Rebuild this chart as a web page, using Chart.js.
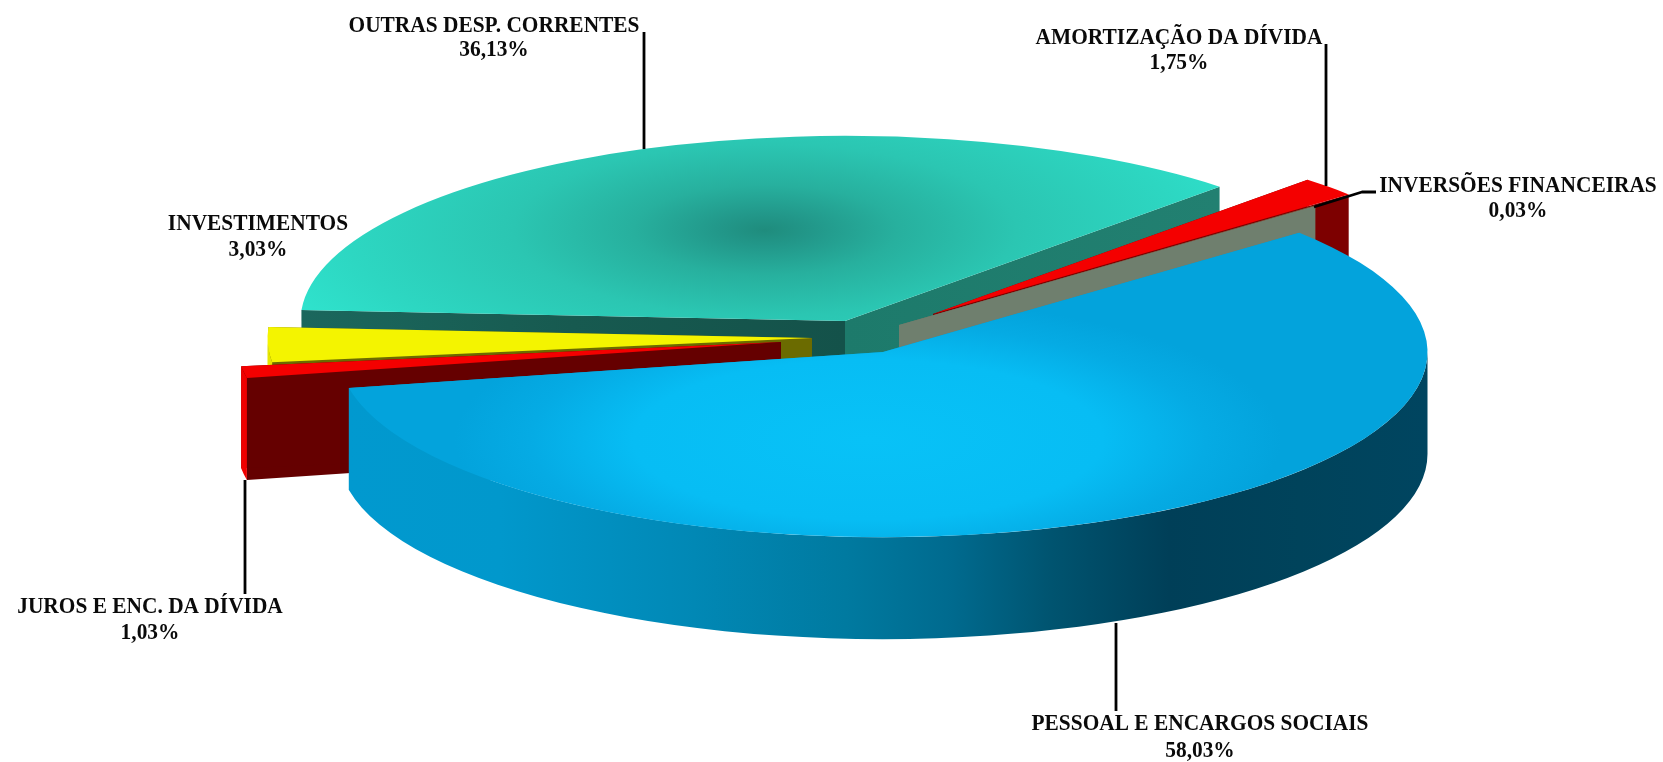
<!DOCTYPE html>
<html lang="pt">
<head>
<meta charset="utf-8">
<title>Despesas por grupo</title>
<style>
html,body{margin:0;padding:0;background:#fff;overflow:hidden}
canvas{display:block}
</style>
<script src="https://cdn.jsdelivr.net/npm/chart.js@4"></script>
</head>
<body>
<canvas id="c" width="1663" height="762"></canvas>
<script>
const categories = ["OUTRAS DESP. CORRENTES","AMORTIZAÇÃO DA DÍVIDA","INVERSÕES FINANCEIRAS","PESSOAL E ENCARGOS SOCIAIS","JUROS E ENC. DA DÍVIDA","INVESTIMENTOS"];
const values = [36.13,1.75,0.03,58.03,1.03,3.03];

// Projection of the pie onto the page
const TILT = 0.34, DEPTH = 102, RADIUS = 544.5, ROTATION = -86.6;
const APEX = [[845,321],[933,314],[899,325],[883,352],[781,342],[812,338]];
const PAINT_ORDER = [0,1,2,5,4,3];

const canvas = document.getElementById('c');
const g = canvas.getContext('2d');
const CX = 1663/2, CY = 762/2;

function radial(dx,dy,r,stops){
  const gr = g.createRadialGradient(CX+dx,CY+dy,0,CX+dx,CY+dy,r);
  stops.forEach(s=>gr.addColorStop(s[0],s[1]));
  return gr;
}
function linear(x0,x1,stops){
  const gr = g.createLinearGradient(x0,0,x1,0);
  stops.forEach(s=>gr.addColorStop(s[0],s[1]));
  return gr;
}
const topColors = [
  radial(-80,-268,600,[[0,'#1f8c7d'],[.08,'#22988a'],[.22,'#27b09e'],[.42,'#2bc6b2'],[.7,'#2dd7c2'],[1,'#31ecd6']]),
  '#f40000',
  '#8a2a10',
  radial(-15,258,470,[[0,'#08c2f7'],[.5,'#07bdf4'],[.72,'#05abe4'],[.88,'#03a3dc'],[1,'#03a3dc']]),
  '#f40000',
  '#f4f400'
];
const cutColors = [
  [linear(302,845,[[0,'#1b675d'],[.5,'#175a50'],[1,'#14524a']]), linear(845,1218,[[0,'#1d7a6b'],[1,'#228071']])],
  ['#7d0000','#7d0000'],
  ['#6f7f6e','#6f7f6e'],
  ['#0099cc','#0099cc'],
  ['#650000','#650000'],
  ['#6b6b00','#6b6b00']
];
const wallColors = [
  '#20806f','#7d0000','#6f7f6e',
  linear(349,1428,[[0,'#0199cf'],[.14,'#0198cc'],[.32,'#0188b5'],[.46,'#007aa0'],[.56,'#006a8e'],[.65,'#005470'],[.76,'#003f58'],[.88,'#00435b'],[1,'#004560']]),
  '#f00000','#e6e600'
];

const LABEL_FONT = 'bold 23px "Liberation Serif"';
const LABEL_STRETCH = 0.93;
const LABELS = [
  {cx:494,  y1:32,  y2:56},
  {cx:1179, y1:44,  y2:69},
  {cx:1518, y1:192, y2:217},
  {cx:1200, y1:730, y2:757},
  {cx:150,  y1:613, y2:639},
  {cx:258,  y1:230, y2:256}
];
const LEADERS = [
  [[644,32],[644,149]],
  [[1326,44],[1326,186]],
  [[1314,207],[1362,192],[1376,192]],
  [[1116,623],[1116,711]],
  [[245,480],[245,594]]
];

const fmt = v => v.toFixed(2).replace('.',',') + '%';

function label(ctx,text,x,y){
  ctx.save();
  ctx.translate(x,y); ctx.scale(LABEL_STRETCH,1);
  ctx.fillText(text,0,0);
  ctx.restore();
}

const pie3d = {
  id:'pie3d',
  beforeDatasetsDraw(chart){
    const ctx = chart.ctx, arcs = chart.getDatasetMeta(0).data;
    PAINT_ORDER.forEach(i=>{
      const arc = arcs[i];
      const {x,y,startAngle:s,endAngle:e,outerRadius:R} = arc.getProps(['x','y','startAngle','endAngle','outerRadius'],true);
      const [ax,ay] = APEX[i];
      const ry = R*TILT;
      const cut = (a,color)=>{
        const px = ax+R*Math.cos(a), py = ay+ry*Math.sin(a);
        ctx.beginPath();
        ctx.moveTo(ax,ay); ctx.lineTo(px,py); ctx.lineTo(px,py+DEPTH); ctx.lineTo(ax,ay+DEPTH);
        ctx.closePath(); ctx.fillStyle = color; ctx.fill();
      };
      cut(s,cutColors[i][0]);
      cut(e,cutColors[i][1]);
      // Only the part of the rim that faces the viewer has a visible wall.
      [0, 2*Math.PI, -2*Math.PI].forEach(turn=>{
        const a0 = Math.max(s+turn,0), a1 = Math.min(e+turn,Math.PI);
        if (a1 <= a0) return;
        ctx.beginPath();
        ctx.ellipse(ax,ay,R,ry,0,a0,a1,false);
        ctx.ellipse(ax,ay+DEPTH,R,ry,0,a1,a0,true);
        ctx.closePath(); ctx.fillStyle = wallColors[i]; ctx.fill();
      });
      ctx.save();
      ctx.translate(ax,ay); ctx.scale(1,TILT); ctx.translate(-x,-y);
      arc.draw(ctx);
      ctx.restore();
    });
    ctx.save();
    ctx.strokeStyle='#000'; ctx.lineWidth=2.8; ctx.lineJoin='round';
    LEADERS.forEach(l=>{
      ctx.beginPath();
      l.forEach((p,k)=>k?ctx.lineTo(p[0],p[1]):ctx.moveTo(p[0],p[1]));
      ctx.stroke();
    });
    ctx.fillStyle='#0a0a0a'; ctx.font=LABEL_FONT; ctx.textAlign='center'; ctx.textBaseline='alphabetic';
    categories.forEach((name,i)=>{
      label(ctx,name,LABELS[i].cx,LABELS[i].y1);
      label(ctx,fmt(values[i]),LABELS[i].cx,LABELS[i].y2);
    });
    ctx.restore();
    return false;
  }
};

new Chart(canvas,{
  type:'pie',
  data:{labels:categories,datasets:[{data:values,backgroundColor:topColors,borderWidth:0,hoverOffset:0}]},
  options:{
    responsive:false,animation:false,devicePixelRatio:1,
    radius:RADIUS,rotation:ROTATION,
    layout:{padding:0},
    events:[],
    plugins:{legend:{display:false},tooltip:{enabled:false},title:{display:false}}
  },
  plugins:[pie3d]
});
</script>
</body>
</html>
